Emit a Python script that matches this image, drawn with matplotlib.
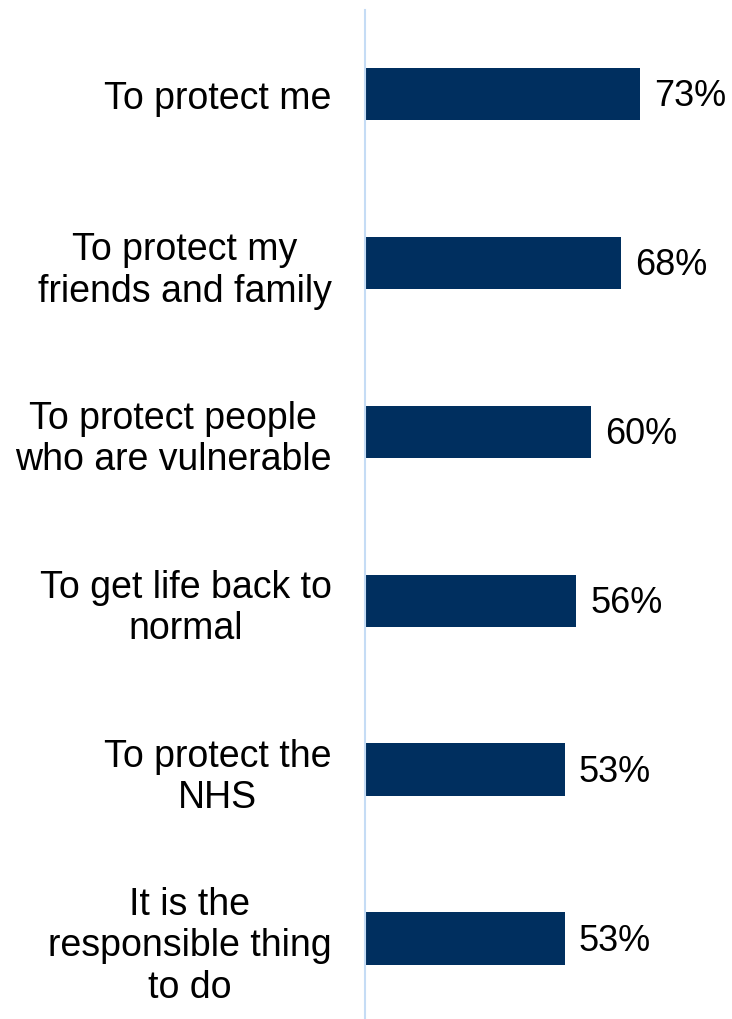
import matplotlib.pyplot as plt
import numpy as np

plt.rcParams['font.family'] = ['Liberation Sans', 'DejaVu Sans']

categories = ["To protect me",
              "To protect my\nfriends and family",
              "To protect people\nwho are vulnerable",
              "To get life back to\nnormal",
              "To protect the\nNHS",
              "It is the\nresponsible thing\nto do"]
values = [73, 68, 60, 56, 53, 53]

fig = plt.figure(figsize=(7.32, 10.2), dpi=100)
ax = fig.add_axes([365 / 732, -4 / 1020, 1 - 365 / 732, 1013.4 / 1020])

y = np.arange(len(categories))
ax.barh(y, values, height=0.31, color='#002F5F')

for yi, v in zip(y, values):
    ax.text(v + 3.8, yi + 0.01, f"{v}%", va='center', ha='left', fontsize=26)

ax.set_ylim(len(categories) - 0.5, -0.5)
ax.set_xlim(0, 367 / 3.767)
ax.set_yticks(y)
ax.set_yticklabels(categories, fontsize=27, multialignment='center')
ax.tick_params(axis='y', length=0, pad=24)
ax.set_xticks([])

for s in ['top', 'right', 'bottom']:
    ax.spines[s].set_visible(False)
ax.spines['left'].set_color('#C5DCF5')
ax.spines['left'].set_linewidth(1.5)

fig.savefig('out.png', dpi=100)
